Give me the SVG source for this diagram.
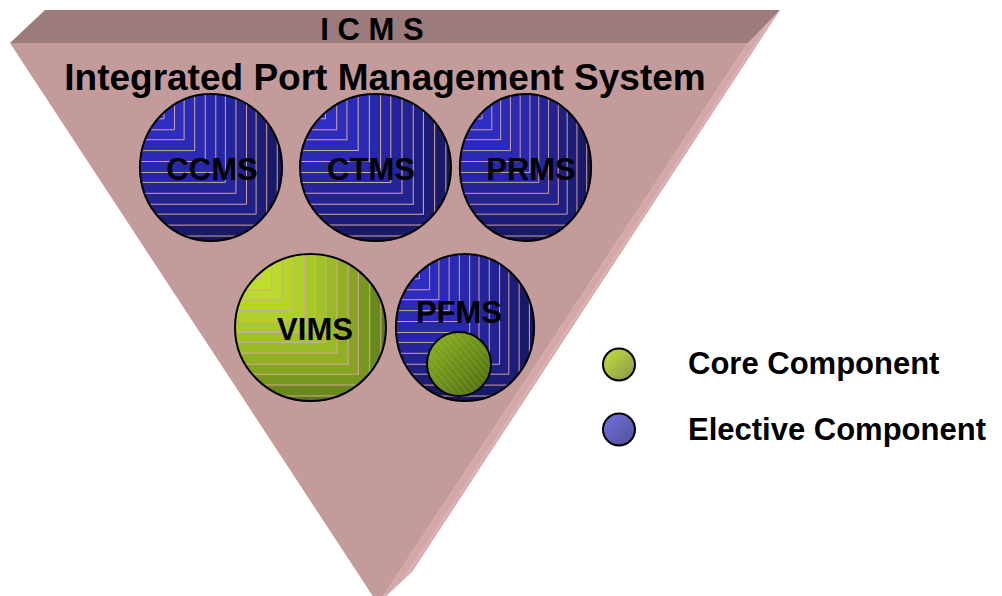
<svg xmlns="http://www.w3.org/2000/svg" width="1002" height="596" viewBox="0 0 1002 596">
<style>
.lbl{font-family:"Liberation Sans",Arial,Helvetica,sans-serif;font-weight:bold;fill:#000}
.node-t{font-size:31px;text-anchor:middle}
.ring{fill:none;stroke:#000;stroke-width:2}
.grid{fill:none;stroke:#d6a896;stroke-width:1}
</style>
<defs>
  <clipPath id="discClip"><circle cx="75" cy="75" r="74"/></clipPath>
  <g id="bands" fill="currentColor" fill-opacity="0.125">
    <rect width="150" height="150"/><rect width="144" height="144"/><rect width="133" height="133"/>
    <rect width="122" height="122"/><rect width="112" height="112"/><rect width="101" height="101"/>
    <rect width="90" height="90"/><rect width="80" height="80"/><rect width="69" height="69"/>
    <rect width="58" height="58"/><rect width="47" height="47"/><rect width="37" height="37"/>
    <rect width="26" height="26"/>
  </g>
  <path id="corners" class="grid" d="M0 26H26V0M0 37H37V0M0 47H47V0M0 58H58V0M0 69H69V0M0 80H80V0M0 90H90V0M0 101H101V0M0 112H112V0M0 122H122V0M0 133H133V0M0 144H144V0"/>
  <symbol id="discBlue" viewBox="0 0 150 150" preserveAspectRatio="none" overflow="visible">
    <g clip-path="url(#discClip)">
      <rect width="150" height="150" fill="#111145"/>
      <use href="#bands" color="#3a3aeb"/>
      <use href="#corners"/>
    </g>
    <circle cx="75" cy="75" r="74" class="ring" vector-effect="non-scaling-stroke"/>
  </symbol>
  <symbol id="discGreen" viewBox="0 0 150 150" preserveAspectRatio="none" overflow="visible">
    <g clip-path="url(#discClip)">
      <rect width="150" height="150" fill="#476515"/>
      <use href="#bands" color="#e1ff37"/>
      <use href="#corners"/>
    </g>
    <circle cx="75" cy="75" r="74" class="ring" vector-effect="non-scaling-stroke"/>
  </symbol>
  <linearGradient id="gSmall" x1="0" y1="0" x2="1" y2="1">
    <stop offset="0" stop-color="#8fb426"/>
    <stop offset="1" stop-color="#4a6912"/>
  </linearGradient>
  <pattern id="hatch" width="5" height="5" patternUnits="userSpaceOnUse" patternTransform="rotate(-40)">
    <line x1="0" y1="0" x2="0" y2="5" stroke="#b4d050" stroke-opacity="0.35" stroke-width="1.5"/>
  </pattern>
  <linearGradient id="gLegGreen" x1="0" y1="0" x2="1" y2="1">
    <stop offset="0" stop-color="#c2e340"/>
    <stop offset="1" stop-color="#879448"/>
  </linearGradient>
  <linearGradient id="gLegBlue" x1="0" y1="0" x2="1" y2="1">
    <stop offset="0" stop-color="#7474e6"/>
    <stop offset="1" stop-color="#4e4e92"/>
  </linearGradient>
</defs>

<g id="pyramid">
  <polygon points="748,43 780,10 412,572 384,598 378,604" fill="#d4a8a8"/>
  <polygon points="770,20 776,14 409,574 403,579" fill="#dcb4b4"/>
  <polygon points="10,43 748,43 378,604" fill="#c49b9b"/>
  <polygon points="45,10 780,10 748,43 10,43" fill="#9b7b7b"/>
  <text class="lbl" x="372" y="40" font-size="31" text-anchor="middle">I C M S</text>
  <text class="lbl" x="385" y="90" font-size="37" text-anchor="middle">Integrated Port Management System</text>
</g>

<g id="connectors"></g>

<g id="ccms">
  <use href="#discBlue" x="139" y="93" width="144" height="149"/>
  <text class="lbl node-t" x="212" y="180">CCMS</text>
</g>
<g id="ctms">
  <use href="#discBlue" x="299" y="93" width="153" height="149"/>
  <text class="lbl node-t" x="371" y="180">CTMS</text>
</g>
<g id="prms">
  <use href="#discBlue" x="459" y="93" width="133" height="149"/>
  <text class="lbl node-t" x="531" y="180">PRMS</text>
</g>
<g id="vims">
  <use href="#discGreen" x="234" y="253" width="153" height="149"/>
  <text class="lbl node-t" x="315" y="340">VIMS</text>
</g>
<g id="pfms">
  <use href="#discBlue" x="395" y="253" width="140" height="149"/>
  <circle cx="459" cy="364" r="32" fill="url(#gSmall)"/>
  <circle cx="459" cy="364" r="32" fill="url(#hatch)" class="ring" style="fill:url(#hatch)"/>
  <text class="lbl node-t" x="459" y="323">PFMS</text>
</g>

<g id="legend-core">
  <circle cx="619" cy="364.5" r="16" fill="url(#gLegGreen)" stroke="#000" stroke-width="2"/>
  <text class="lbl" x="688" y="374" font-size="31">Core Component</text>
</g>
<g id="legend-elective">
  <circle cx="619" cy="429.5" r="16" fill="url(#gLegBlue)" stroke="#000" stroke-width="2"/>
  <text class="lbl" x="688" y="440" font-size="31">Elective Component</text>
</g>
</svg>
